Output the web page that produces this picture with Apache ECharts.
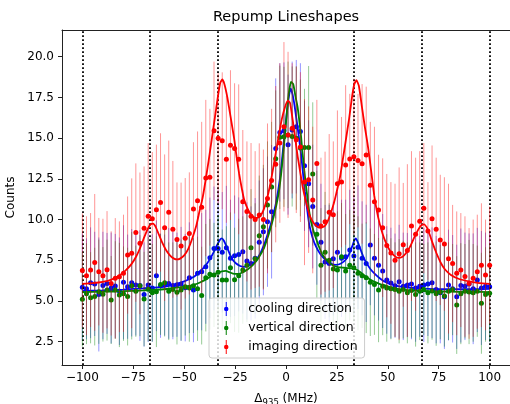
<!DOCTYPE html>
<html>
<head>
<meta charset="utf-8">
<script src="https://cdn.jsdelivr.net/npm/echarts@6/dist/echarts.min.js"></script>
<style>html,body{margin:0;padding:0;background:#fff}#c{width:510px;height:404px}</style>
</head>
<body>
<div id="c"></div>
<script>
// Detuning values (MHz), shared by all three directions
const detuning = [
-100,-97.98,-95.96,-93.94,-91.92,-89.9,-87.88,-85.86,-83.84,-81.82,
-79.8,-77.78,-75.76,-73.74,-71.72,-69.7,-67.68,-65.66,-63.64,-61.62,
-59.6,-57.58,-55.56,-53.54,-51.52,-49.49,-47.47,-45.45,-43.43,-41.41,
-39.39,-37.37,-35.35,-33.33,-31.31,-29.29,-27.27,-25.25,-23.23,-21.21,
-19.19,-17.17,-15.15,-13.13,-11.11,-9.09,-7.07,-5.05,-3.03,-1.01,
1.01,3.03,5.05,7.07,9.09,11.11,13.13,15.15,17.17,19.19,
21.21,23.23,25.25,27.27,29.29,31.31,33.33,35.35,37.37,39.39,
41.41,43.43,45.45,47.47,49.49,51.52,53.54,55.56,57.58,59.6,
61.62,63.64,65.66,67.68,69.7,71.72,73.74,75.76,77.78,79.8,
81.82,83.84,85.86,87.88,89.9,91.92,93.94,95.96,97.98,100];

const coolingCounts = [
5.85,5.75,6.12,6.05,5.4,5.95,6.08,5.8,5.92,5.6,
6.15,5.88,6.12,5.98,5.95,5.4,5.98,5.8,6.55,5.94,
5.98,6.08,5.95,6.0,6.05,5.82,6.43,5.67,6.7,6.8,
7.1,7.65,8.23,8.23,7.99,8.27,7.62,7.78,7.86,8.03,
7.46,7.31,7.62,8.6,9.25,9.87,10.48,14.37,15.35,15.45,
14.6,15.5,15.7,15.4,13.3,12.2,10.8,9.7,8.6,7.4,
7.3,7.6,8.0,7.62,7.72,8.13,7.76,8.3,7.62,7.31,
8.44,7.62,7.2,6.84,6.29,6.1,5.94,6.18,5.9,5.98,
6.05,5.8,5.9,5.98,6.05,6.12,5.7,5.5,5.26,5.98,
5.75,5.26,5.95,5.9,6.05,5.75,6.29,5.8,5.9,5.88];
const coolingErr = [
3.3,3.1,3.4,3.2,3.5,3.3,3.1,3.4,3.2,3.3,
3.5,3.2,3.3,3.1,3.4,3.2,3.5,3.3,3.4,3.2,
3.1,3.4,3.3,3.2,3.5,3.3,3.4,3.2,3.5,3.6,
3.5,3.7,3.8,3.6,3.7,3.8,3.6,3.7,3.5,3.8,
3.6,3.5,3.7,3.8,3.9,4.0,4.1,4.3,4.25,4.2,
4.3,4.2,4.1,4.2,4.0,3.9,3.8,3.7,3.6,3.5,
3.6,3.5,3.7,3.6,3.5,3.7,3.6,3.8,3.5,3.6,
3.7,3.5,3.4,3.5,3.3,3.4,3.2,3.5,3.3,3.2,
3.4,3.3,3.1,3.5,3.2,3.4,3.3,3.1,3.2,3.4,
3.3,3.2,3.5,3.3,3.1,3.4,3.2,3.5,3.3,3.4];

const verticalCounts = [
5.1,5.45,5.2,5.27,5.57,5.41,5.67,5.06,5.67,5.37,
5.45,5.27,5.94,5.6,5.94,5.12,5.72,5.5,5.57,6.02,
6.12,5.6,5.7,5.53,5.67,5.88,5.8,5.94,5.75,5.33,
6.43,6.64,6.6,6.76,6.29,6.29,7.04,6.3,6.55,6.9,
7.2,8.27,7.6,9.0,9.56,10.9,12.0,13.73,15.05,15.08,
15.2,15.1,15.0,14.4,14.43,14.43,12.8,9.1,7.2,8.0,
7.5,6.96,6.9,7.72,6.84,7.2,7.04,6.7,6.55,6.43,
6.15,6.02,5.67,5.9,5.8,5.75,5.7,5.6,5.7,5.5,
5.65,5.4,5.6,5.7,5.5,5.62,5.45,5.55,5.3,5.6,
5.7,4.75,5.45,5.6,5.55,5.5,5.6,4.86,5.4,5.47];
const verticalErr = [
2.9,3.1,2.8,3.0,3.2,2.9,3.1,2.7,3.0,3.2,
2.9,3.0,3.3,2.8,3.1,2.9,3.2,3.0,3.4,3.1,
3.3,3.0,2.9,3.2,3.1,3.0,3.3,2.9,3.2,3.0,
3.3,3.4,3.2,3.5,3.1,3.3,3.4,3.2,3.5,3.3,
3.5,3.6,3.4,3.7,3.8,3.9,4.0,4.2,4.4,4.3,
4.5,4.3,4.4,4.2,3.6,5.0,4.4,3.9,3.5,3.7,
3.5,3.4,3.6,3.3,3.5,3.4,3.3,3.5,3.2,3.4,
3.3,3.1,3.2,3.0,3.3,3.1,2.9,3.2,3.0,3.1,
2.9,3.2,3.0,2.8,3.1,3.0,3.2,2.9,3.1,3.0,
2.8,3.0,3.1,2.9,3.2,3.0,2.8,3.1,2.9,3.0];

const imagingCounts = [
6.88,6.55,6.9,7.37,6.8,6.55,6.92,6.08,6.39,6.49,
6.7,7.82,7.93,9.2,8.54,9.46,10.2,10.05,10.6,11.05,
9.5,10.45,9.4,8.78,8.37,8.85,9.15,10.65,11.16,10.75,
12.55,12.6,15.45,15.0,14.84,13.7,14.57,14.37,13.7,11.1,
10.5,10.2,10.0,10.28,10.0,11.3,12.4,13.4,14.7,15.7,
15.2,15.6,14.9,14.45,12.3,12.45,11.2,13.45,9.6,9.87,
10.45,10.3,12.2,12.3,13.35,13.72,13.85,13.62,13.42,13.96,
12.1,11.1,10.58,9.5,8.4,7.95,7.5,7.9,8.45,8.1,
9.6,9.1,9.9,10.7,9.3,10.05,9.4,8.75,8.5,7.6,
7.3,6.7,6.9,6.5,6.08,6.4,6.8,7.2,6.6,7.2];
const imagingErr = [
3.5,3.65,3.5,4.2,3.3,3.5,3.6,3.2,3.7,3.4,
3.6,3.6,4.6,4.25,4.35,3.8,4.5,4.1,4.0,4.25,
4.5,4.4,4.2,3.5,3.9,3.7,3.75,4.1,4.25,5.25,
4.8,4.2,4.25,4.0,4.2,3.9,4.6,4.0,4.6,4.4,
4.3,4.5,4.2,4.4,4.3,4.6,4.4,4.8,4.9,5.2,
5.1,4.0,4.5,4.6,5.1,4.5,4.5,3.9,4.2,4.3,
4.8,4.5,4.5,4.0,4.9,4.0,4.8,4.1,4.9,4.2,
3.9,4.6,3.4,4.26,4.4,4.35,4.7,5.3,3.8,5.3,
4.6,4.7,4.3,4.0,3.0,4.5,4.4,4.0,4.1,4.6,
3.6,3.8,3.5,3.7,3.4,3.6,3.5,3.8,3.4,3.6];

// Fitted lineshapes: [detuning, counts]
const coolingFit = [
[-100,5.62],[-90,5.65],[-80,5.7],[-70,5.78],[-62,5.85],[-58,5.92],[-55,6.0],[-50,6.2],[-45,6.5],
[-42,6.85],[-40,7.1],[-38.5,7.35],[-37,7.65],[-35.5,8.0],[-34,8.4],[-32.5,8.75],[-31.5,8.85],
[-30.5,8.7],[-29,8.3],[-27.5,7.85],[-26,7.5],[-24.5,7.3],[-22.5,7.15],[-20.5,7.1],[-18.5,7.15],
[-16.5,7.3],[-14.5,7.55],[-12.5,7.95],[-10.5,8.55],[-9,9.1],[-7.5,9.7],[-6,10.4],[-4.5,11.3],
[-3,12.5],[-2,13.6],[-1,14.9],[0,16.1],[1,17.2],[2.2,18.05],[3.2,17.7],[4.2,17.0],[5.2,16.1],
[6.5,14.9],[7.5,13.9],[8.3,12.9],[9.3,11.7],[10.3,10.7],[11.4,9.7],[13,8.9],[14.7,8.35],
[17,7.85],[19.6,7.5],[22,7.3],[24.5,7.22],[27,7.3],[29.4,7.55],[31,7.9],[32.5,8.35],[33.5,8.7],
[34.3,8.85],[35.3,8.6],[36.8,8.1],[38,7.7],[39.2,7.4],[41.5,6.95],[44,6.62],[46.5,6.35],
[49,6.15],[52,6.02],[55,5.92],[60,5.82],[70,5.75],[80,5.72],[90,5.72],[100,5.75]];
const verticalFit = [
[-100,5.55],[-90,5.57],[-80,5.6],[-70,5.65],[-60,5.72],[-55,5.8],[-50,5.88],[-45,6.0],[-42,6.15],
[-38.5,6.39],[-36,6.58],[-33.7,6.72],[-31.5,6.82],[-29.6,6.85],[-27.5,6.75],[-25.5,6.66],
[-23.5,6.66],[-22,6.72],[-20,6.85],[-18,7.02],[-16,7.25],[-14,7.55],[-12.3,7.9],[-10.8,8.25],
[-9,8.9],[-7.5,9.5],[-6,10.2],[-4.8,10.85],[-3.5,11.7],[-2.3,12.9],[-1.1,14.4],[0.1,16.1],
[1.3,17.7],[2.45,18.46],[3.6,18.3],[4.6,17.6],[5.7,16.9],[6.6,16.0],[7.4,15.1],[8.2,14.0],
[9,13.0],[9.8,12.1],[10.6,11.3],[11.4,10.5],[12.3,9.87],[13.5,9.3],[14.7,8.85],[16.3,8.3],
[18,7.82],[20.5,7.45],[22.9,7.2],[25.5,7.08],[27.8,7.05],[30,7.02],[32.7,7.0],[35,6.9],
[37,6.72],[39.2,6.5],[41.5,6.3],[44.1,6.15],[46.5,6.02],[49,5.94],[52,5.82],[54.9,5.74],
[60,5.66],[70,5.6],[80,5.57],[90,5.56],[100,5.55]];
const imagingFit = [
[-100,6.05],[-95,6.1],[-90,6.18],[-86,6.3],[-82,6.55],[-79,6.85],[-76,7.25],[-73.5,7.75],
[-71.5,8.3],[-69.5,8.95],[-68,9.4],[-66.5,9.7],[-65.3,9.75],[-64,9.55],[-62.5,9.1],[-61,8.65],
[-59,8.15],[-57,7.8],[-55,7.6],[-53.5,7.55],[-52,7.6],[-50,7.8],[-48,8.2],[-46,8.85],[-44,9.65],
[-42.5,10.5],[-41,11.3],[-39.5,12.4],[-38,13.6],[-36.5,14.9],[-35,16.2],[-33.5,17.5],
[-32.3,18.4],[-31.3,18.6],[-30.2,18.3],[-28.8,17.5],[-27.2,16.3],[-25.5,15.0],[-24.2,13.8],
[-23,12.8],[-21.7,11.9],[-20.5,11.2],[-19,10.7],[-17.5,10.35],[-15.5,10.12],[-14,10.1],
[-12.5,10.25],[-11,10.6],[-9.5,11.2],[-8,12.0],[-6.5,13.0],[-5,14.1],[-3.5,15.2],[-2,16.2],
[-0.5,16.9],[0.9,17.3],[2,17.15],[3.3,16.1],[4.5,15.0],[5.7,13.9],[7,12.9],[8.2,12.0],
[9.8,11.1],[11.5,10.3],[13.5,9.8],[15.5,9.55],[17.2,9.5],[19,9.6],[20.5,9.9],[22,10.4],
[23.5,11.0],[24.5,11.5],[26.5,12.6],[27.8,13.6],[29.4,14.9],[31,16.2],[32.5,17.6],[33.5,18.3],
[34.6,18.56],[35.8,18.2],[37.3,16.9],[38.7,15.7],[40,14.7],[41.2,13.6],[42.2,12.6],[43.3,11.5],
[44.5,10.6],[46,9.75],[47.5,9.1],[49,8.6],[51,8.1],[53,7.8],[55,7.65],[57,7.7],[59,7.95],
[61,8.35],[63,8.9],[65,9.4],[66.5,9.65],[67.8,9.7],[69,9.55],[70.5,9.1],[72,8.55],[74,7.9],
[76,7.35],[78,6.95],[81,6.6],[85,6.35],[90,6.2],[95,6.1],[100,6.05]];

// Dotted reference lines (MHz)
const vlines = [-100, -66.67, -33.33, 33.33, 66.67, 100];
const xTicks = [-100, -75, -50, -25, 0, 25, 50, 75, 100];
const yTicks = [2.5, 5, 7.5, 10, 12.5, 15, 17.5, 20];

const FONT = 'DejaVu Sans';
const C_BLUE = '#0000ff', C_GREEN = '#008000', C_RED = '#ff0000';
const ICON = 'path://M4.3,0 L5.7,0 L5.7,20 L4.3,20 Z M8.2,10 A3.2,3.2 0 1 1 1.8,10 A3.2,3.2 0 1 1 8.2,10 Z';

function errSeries(name, ys, es, color, z) {
  return {
    name: name, type: 'custom', z: z, silent: true, clip: true,
    data: detuning.map((x, i) => [x, ys[i] - es[i], ys[i] + es[i]]),
    encode: { x: 0, y: [1, 2] },
    renderItem: function (params, api) {
      const a = api.coord([api.value(0), api.value(1)]);
      const b = api.coord([api.value(0), api.value(2)]);
      return { type: 'line', shape: { x1: a[0], y1: a[1], x2: b[0], y2: b[1] },
        style: { stroke: color, lineWidth: 1, opacity: 0.42 } };
    }
  };
}
function ptSeries(name, ys, color, z) {
  return { name: name, type: 'scatter', z: z, symbol: 'circle', symbolSize: 5,
    itemStyle: { color: color, opacity: 1 }, data: detuning.map((x, i) => [x, ys[i]]) };
}
function fitSeries(name, pts, color, z) {
  return { name: name, type: 'line', z: z, data: pts, showSymbol: false, symbol: 'none',
    smooth: 0.15, lineStyle: { color: color, width: 1.8 }, itemStyle: { color: color }, silent: true };
}

const chart = echarts.init(document.getElementById('c'), null, { renderer: 'canvas' });
const series = [
  errSeries('cooling err', coolingCounts, coolingErr, C_BLUE, 2),
  ptSeries('cooling direction', coolingCounts, C_BLUE, 3),
  fitSeries('cooling fit', coolingFit, C_BLUE, 4),
  errSeries('vertical err', verticalCounts, verticalErr, C_GREEN, 5),
  ptSeries('vertical direction', verticalCounts, C_GREEN, 6),
  fitSeries('vertical fit', verticalFit, C_GREEN, 7),
  errSeries('imaging err', imagingCounts, imagingErr, C_RED, 8),
  ptSeries('imaging direction', imagingCounts, C_RED, 9),
  fitSeries('imaging fit', imagingFit, C_RED, 10),
  { name: 'refs', type: 'line', data: [], z: 11, silent: true,
    markLine: { silent: true, symbol: ['none', 'none'], label: { show: false },
      lineStyle: { color: '#000', width: 1.8, type: [1.8, 2.2], cap: 'butt' },
      emphasis: { disabled: true },
      data: vlines.map(v => ({ xAxis: v })) } }
];

chart.setOption({
  animation: false,
  backgroundColor: '#fff',
  textStyle: { fontFamily: FONT },
  title: { text: 'Repump Lineshapes', left: 286, top: 10, textAlign: 'center', padding: 0,
    textStyle: { fontFamily: FONT, fontSize: 14.5, fontWeight: 'normal', color: '#000' } },
  grid: { left: 62, right: 0, top: 30, bottom: 39, containLabel: false, outerBoundsMode: 'none' },
  legend: {
    orient: 'vertical', left: 209, top: 298, padding: [4, 7, 4, 15], itemGap: 5,
    itemWidth: 34, itemHeight: 14, z: 20,
    backgroundColor: 'rgba(255,255,255,0.8)', borderColor: '#cccccc', borderWidth: 1, borderRadius: 3,
    textStyle: { fontFamily: FONT, fontSize: 12.5, color: '#000', lineHeight: 14 },
    data: [
      { name: 'cooling direction', icon: ICON },
      { name: 'vertical direction', icon: ICON },
      { name: 'imaging direction', icon: ICON }
    ]
  },
  xAxis: [{
    type: 'value', min: -110, max: 110,
    axisLine: { show: true, onZero: false, lineStyle: { color: '#222', width: 1 } },
    axisTick: { show: true, length: 4, customValues: xTicks, lineStyle: { color: '#222' } },
    axisLabel: { customValues: xTicks, margin: 7, color: '#000', fontSize: 12, fontFamily: FONT,
      formatter: v => String(v).replace('-', '\u2212') },
    splitLine: { show: false },
    name: '{d|\u0394}{s|935}{d| (MHz)}', nameLocation: 'middle', nameGap: 26,
    nameTextStyle: { color: '#000', fontFamily: FONT,
      rich: { d: { fontSize: 12, fontFamily: FONT, color: '#000' },
              s: { fontSize: 8.5, fontFamily: FONT, color: '#000', padding: [7, 0, 0, 0] } } }
  }, {
    type: 'value', min: -110, max: 110, position: 'top',
    axisLine: { show: true, onZero: false, lineStyle: { color: '#222', width: 1 } },
    axisTick: { show: false }, axisLabel: { show: false }, splitLine: { show: false }
  }],
  yAxis: [{
    type: 'value', min: 1.07, max: 21.64,
    axisLine: { show: true, onZero: false, lineStyle: { color: '#222', width: 1 } },
    axisTick: { show: true, length: 4, customValues: yTicks, lineStyle: { color: '#222' } },
    axisLabel: { customValues: yTicks, margin: 8, color: '#000', fontSize: 12, fontFamily: FONT,
      formatter: v => v.toFixed(1) },
    splitLine: { show: false },
    name: 'Counts', nameLocation: 'middle', nameGap: 37,
    nameTextStyle: { color: '#000', fontFamily: FONT, fontSize: 12 }
  }, {
    type: 'value', min: 1.07, max: 21.64, position: 'right',
    axisLine: { show: true, onZero: false, lineStyle: { color: '#222', width: 1 } },
    axisTick: { show: false }, axisLabel: { show: false }, splitLine: { show: false }
  }],
  series: series
});
</script>
</body>
</html>
